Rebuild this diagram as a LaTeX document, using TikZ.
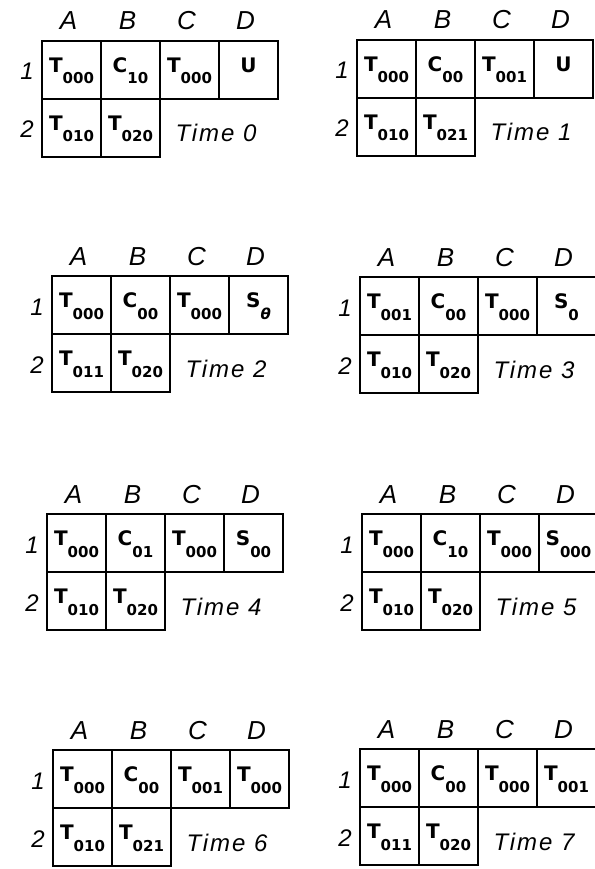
\documentclass[tikz,border=0pt]{standalone}
\usepackage{fontspec}
\setmainfont{Liberation Sans}
\newfontfamily\cellfont{DejaVu Sans}
\newfontfamily\timefont[LetterSpace=8]{Liberation Sans}
\usetikzlibrary{positioning}
\usetikzlibrary{calc}

% cell label: letter with lowered digits
\newcommand{\cl}[2]{#1\raisebox{-11.5pt}{\fontsize{15}{15}\selectfont #2}}
% one time step: name, top left corner, row 1 (A--D), row 2 (A,B), time
\newcommand{\timegrid}[9]{%
  \node[cell,anchor=north west] (#1a1) at (#2) {#3};
  \node[cell,right=0pt of #1a1] (#1b1) {#4};
  \node[cell,right=0pt of #1b1] (#1c1) {#5};
  \node[cell,right=0pt of #1c1] (#1d1) {#6};
  \node[cell,below=0pt of #1a1] (#1a2) {#7};
  \node[cell,right=0pt of #1a2] (#1b2) {#8};
  \node[colhead] (#1ha) at ($(#1a1.north)+(-3,-11)$) {A};
  \node[colhead] (#1hb) at ($(#1b1.north)+(-3,-11)$) {B};
  \node[colhead] (#1hc) at ($(#1c1.north)+(-3,-11)$) {C};
  \node[colhead] (#1hd) at ($(#1d1.north)+(-3,-11)$) {D};
  \node[rowhead] (#1r1) at ($(#1a1.west)+(-8,10)$) {1};
  \node[rowhead] (#1r2) at ($(#1a2.west)+(-8,10)$) {2};
  \node[timetext] (#1time) at ($(#1c1.south east |- #1b2.center)+(-3,14)$) {Time #9};
}

\begin{document}
\begin{tikzpicture}[x=1pt,y=-1pt,
  cell/.style={draw,line width=1.3pt,minimum width=59pt,minimum height=58pt,
    inner sep=0pt,outer sep=0pt,text height=17pt,text depth=12pt,
    font=\cellfont\bfseries\fontsize{20}{20}\selectfont},
  colhead/.style={anchor=base,inner sep=0pt,font=\itshape\fontsize{26}{26}\selectfont},
  rowhead/.style={anchor=base east,inner sep=0pt,font=\itshape\fontsize{24}{24}\selectfont},
  timetext/.style={anchor=base,inner sep=0pt,font=\timefont\itshape\fontsize{24}{24}\selectfont}]
\useasboundingbox (0,0) rectangle (594,869);

\timegrid{p0}{42,41}{\cl{T}{000}}{\cl{C}{10}}{\cl{T}{000}}{\cl{U}{}}{\cl{T}{010}}{\cl{T}{020}}{0}
\timegrid{p1}{357,40}{\cl{T}{000}}{\cl{C}{00}}{\cl{T}{001}}{\cl{U}{}}{\cl{T}{010}}{\cl{T}{021}}{1}
\timegrid{p2}{52,276}{\cl{T}{000}}{\cl{C}{00}}{\cl{T}{000}}{\cl{S}{\textit{θ}}}{\cl{T}{011}}{\cl{T}{020}}{2}
\timegrid{p3}{360,277}{\cl{T}{001}}{\cl{C}{00}}{\cl{T}{000}}{\cl{S}{0}}{\cl{T}{010}}{\cl{T}{020}}{3}
\timegrid{p4}{47,514}{\cl{T}{000}}{\cl{C}{01}}{\cl{T}{000}}{\cl{S}{00}}{\cl{T}{010}}{\cl{T}{020}}{4}
\timegrid{p5}{362,514}{\cl{T}{000}}{\cl{C}{10}}{\cl{T}{000}}{\cl{S}{000}}{\cl{T}{010}}{\cl{T}{020}}{5}
\timegrid{p6}{53,750}{\cl{T}{000}}{\cl{C}{00}}{\cl{T}{001}}{\cl{T}{000}}{\cl{T}{010}}{\cl{T}{021}}{6}
\timegrid{p7}{360,749}{\cl{T}{000}}{\cl{C}{00}}{\cl{T}{000}}{\cl{T}{001}}{\cl{T}{011}}{\cl{T}{020}}{7}
\end{tikzpicture}
\end{document}
